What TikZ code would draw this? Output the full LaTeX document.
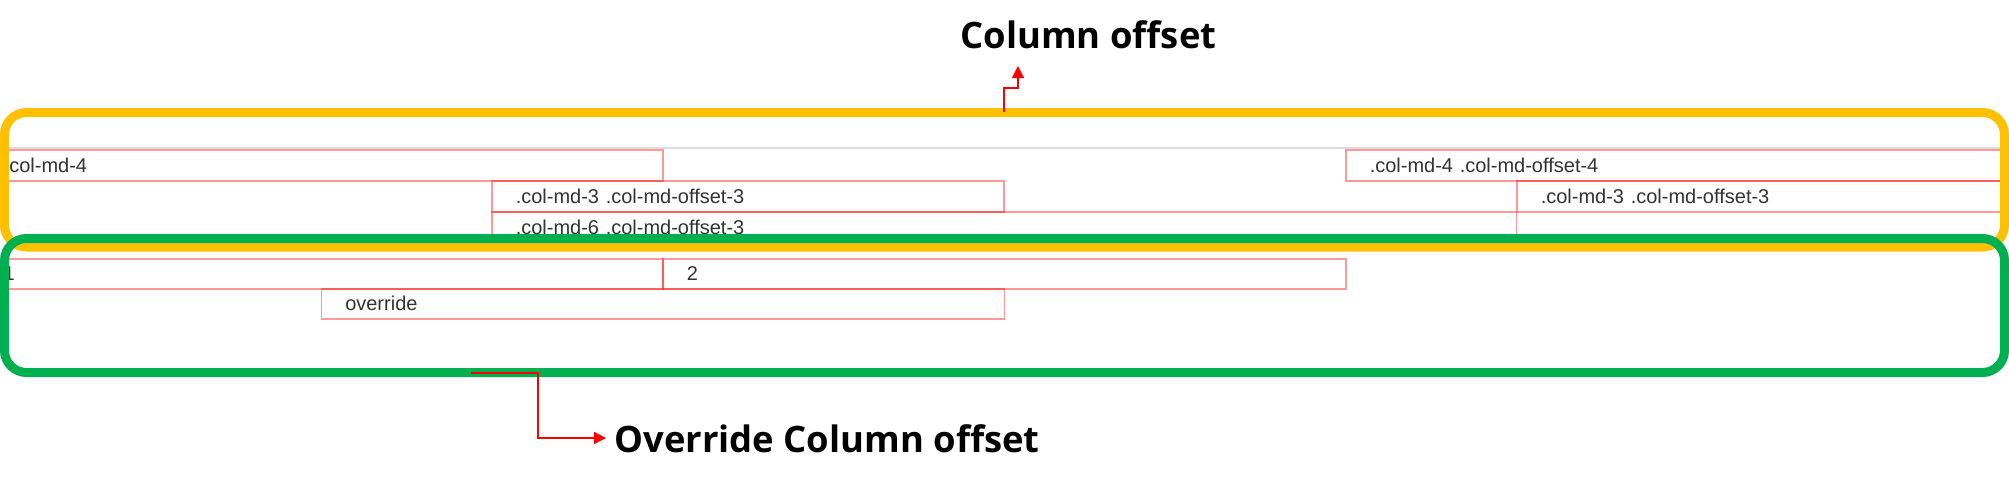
\documentclass[tikz,border=0pt]{standalone}
\usepackage{fontspec}
\setmainfont{Liberation Sans}
\newfontfamily\titlefont{Open Sans}
\usetikzlibrary{arrows.meta}
\definecolor{frameyellow}{HTML}{FFC000}
\definecolor{framegreen}{HTML}{00B050}
\definecolor{coltext}{HTML}{333333}
\definecolor{rowline}{HTML}{DCDCE0}
\tikzset{
  colspan/.code={\pgfmathsetlengthmacro\colw{#1*85.375pt-24pt}\pgfkeysalso{text width=\colw}},
  gridcol/.style={anchor=north west, draw=red, draw opacity=0.4, line width=0.75pt,
    inner xsep=12pt, inner ysep=0pt, minimum height=15.5pt, align=left,
    font=\fontsize{10}{12}\selectfont, text=coltext, colspan=#1},
  frame/.style={line width=4.5pt, rounded corners=11pt},
  caption/.style={anchor=base west, inner sep=0pt, font=\titlefont\bfseries\fontsize{18.2}{22}\selectfont},
  redarrow/.style={red, line width=0.65pt, -{Triangle[length=6pt,width=6pt]}}
}
\begin{document}
\begin{tikzpicture}[x=0.5pt,y=-0.5pt]
  \useasboundingbox (0,0) rectangle (2009,483);
  \clip (0,0) rectangle (2009,483);
  % column offset rows
  \draw[rowline, line width=1pt] (9,147.5) -- (2000,147.5);
  \node[gridcol=4] (md4) at (-21,149) {.col-md-4};
  \node[gridcol=4] (md4off4) at (1345,149) {.col-md-4 .col-md-offset-4};
  \node[gridcol=3] (md3off3a) at (491,180) {.col-md-3 .col-md-offset-3};
  \node[gridcol=3] (md3off3b) at (1516,180) {.col-md-3 .col-md-offset-3};
  \node[gridcol=6] (md6off3) at (491,211) {.col-md-6 .col-md-offset-3};
  % override rows
  \node[gridcol=4, minimum height=15pt] (one) at (-21,258) {1};
  \node[gridcol=4, minimum height=15pt] (two) at (662,258) {2};
  \node[gridcol=4, minimum height=15pt] (override) at (320.5,288) {override};
  % frames
  \draw[frame, frameyellow] (4.5,112.5) rectangle (2004.5,247);
  \draw[frame, framegreen] (4.5,238.5) rectangle (2004.5,372.5);
  % captions
  \node[caption] (coltitle) at (960,48) {Column offset};
  \node[caption] (ovrtitle) at (614,452) {Override Column offset};
  \coordinate (colfrom) at (1004,112);
  \coordinate (colto) at (1018,66);
  \coordinate (ovrfrom) at (471,373);
  \coordinate (ovrto) at (606,438);
  \draw[redarrow] (colfrom) -- ++(0,-24) -| (colto);
  \draw[redarrow] (ovrfrom) -- ++(67,0) |- (ovrto);
\end{tikzpicture}
\end{document}
